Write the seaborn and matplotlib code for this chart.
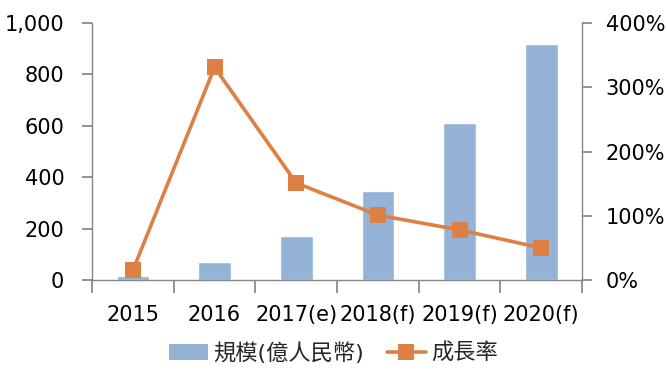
import matplotlib.pyplot as plt
import seaborn as sns
import pandas as pd
import numpy as np
from matplotlib.ticker import FuncFormatter, FixedLocator
from matplotlib.patches import Patch
from matplotlib.lines import Line2D

years = ['2015', '2016', '2017(e)', '2018(f)', '2019(f)', '2020(f)']
scale = [16, 69, 172, 346, 610, 920]          # 規模 (億人民幣)
growth = [15, 331, 151, 101, 78, 50]          # 成長率 (%)

bar_color = '#95B3D7'
line_color = '#DE7F44'
axis_gray = '#868686'

sns.set_theme(style="white")
plt.rcParams['font.family'] = ['DejaVu Sans', 'Noto Sans CJK TC']

fig = plt.figure(figsize=(6.67, 3.86), dpi=100)
ax1 = fig.add_axes([0.138, 0.2746, 0.7346, 0.6658])

df = pd.DataFrame({'year': years, 'scale': scale, 'growth': growth})
sns.barplot(data=df, x='year', y='scale', color=bar_color, width=0.4,
            saturation=1, ax=ax1)
ax1.set_xlim(-0.5, len(years) - 0.5)
ax1.set_ylim(0, 1000)
ax1.set_yticks([0, 200, 400, 600, 800, 1000])
ax1.yaxis.set_major_formatter(FuncFormatter(lambda v, p: f'{int(v):,}'))
ax1.set_xlabel('')
ax1.set_ylabel('')

ax2 = ax1.twinx()
sns.lineplot(x=np.arange(len(years)), y=growth, ax=ax2, color=line_color,
             linewidth=2.6, marker='s', markersize=11, markeredgewidth=0)
ax2.set_ylim(0, 400)
ax2.set_yticks([0, 100, 200, 300, 400])
ax2.yaxis.set_major_formatter(FuncFormatter(lambda v, p: f'{int(v)}%'))
ax2.set_xlim(-0.5, len(years) - 0.5)

for ax in (ax1, ax2):
    for s in ax.spines.values():
        s.set_color(axis_gray)
        s.set_linewidth(1)
    ax.spines['top'].set_visible(False)
    ax.grid(False)

ax1.spines['right'].set_visible(False)
ax2.spines['left'].set_visible(False)
ax2.spines['bottom'].set_visible(False)

ax1.tick_params(axis='y', left=True, length=7, color=axis_gray, labelsize=15,
                pad=13, labelcolor='black')
ax2.tick_params(axis='y', right=True, length=7, color=axis_gray, labelsize=15,
                pad=10, labelcolor='black')

# x ticks at category boundaries, labels centered
ax1.xaxis.set_major_locator(FixedLocator(np.arange(-0.5, len(years), 1.0)))
ax1.xaxis.set_minor_locator(FixedLocator(np.arange(len(years))))
ax1.xaxis.set_major_formatter(FuncFormatter(lambda v, p: ''))
ax1.set_xticklabels(years, minor=True)
ax1.tick_params(axis='x', which='major', bottom=True, length=9, color=axis_gray)
ax1.tick_params(axis='x', which='minor', bottom=False, labelsize=15, pad=14,
                labelcolor='black')

handles = [Patch(facecolor=bar_color, edgecolor='none'),
           Line2D([0], [0], color=line_color, linewidth=2.6, marker='s',
                  markersize=11, markeredgewidth=0)]
fig.legend(handles, ['規模(億人民幣)', '成長率'], loc='center',
           bbox_to_anchor=(0.5, 0.085), ncol=2, frameon=False, fontsize=16,
           handlelength=1.75, columnspacing=1.0, handletextpad=0.25)

fig.savefig('out.png', dpi=100)
